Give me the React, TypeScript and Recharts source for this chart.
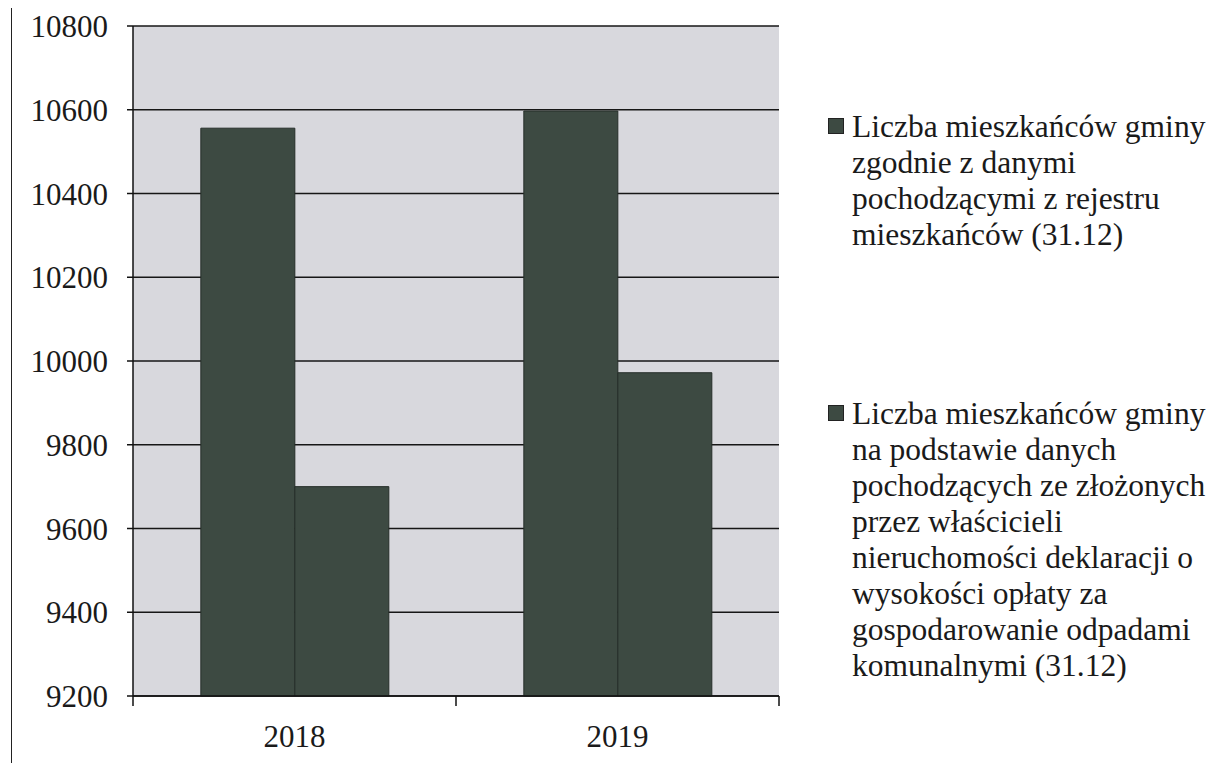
import React from 'react';
import { BarChart, Bar, XAxis, YAxis, CartesianGrid } from 'recharts';

const years = ['2018', '2019'];
const registerResidents = [10556, 10597];
const declaredResidents = [9700, 9972];
const yTicks = [9200, 9400, 9600, 9800, 10000, 10200, 10400, 10600, 10800];
const seriesNames = [
  'Liczba mieszkańców gminy\nzgodnie z danymi\npochodzącymi z rejestru\nmieszkańców (31.12)',
  'Liczba mieszkańców gminy\nna podstawie danych\npochodzących ze złożonych\nprzez właścicieli\nnieruchomości deklaracji o\nwysokości opłaty za\ngospodarowanie odpadami\nkomunalnymi (31.12)',
];

const data = years.map((year, i) => ({
  year,
  register: registerResidents[i],
  declared: declaredResidents[i],
}));

const FONT = '"Liberation Serif", "Times New Roman", serif';
const BAR = '#3d4a42';
const W = 800;
const H = 763;
const MARGIN = { top: 26, right: 21, left: 0, bottom: 27 };
const Y_WIDTH = 133;
const PLOT_W = W - MARGIN.left - MARGIN.right - Y_WIDTH;
const HALF_BAND = PLOT_W / years.length / 2;

// x-axis ticks sit on the category borders, labels in the middle
function YearTick(props: any) {
  const { x, y, payload, index } = props;
  const last = index === years.length - 1;
  return (
    <g>
      <line x1={x - HALF_BAND} x2={x - HALF_BAND} y1={y} y2={y + 10} stroke="#111" strokeWidth={1.5} />
      {last && (
        <line x1={x + HALF_BAND} x2={x + HALF_BAND} y1={y} y2={y + 10} stroke="#111" strokeWidth={1.5} />
      )}
      <text x={x} y={y + 51} textAnchor="middle" fontFamily={FONT} fontSize={31} fill="#1a1a1a">
        {payload.value}
      </text>
    </g>
  );
}

function LegendBox() {
  const tops = [109, 396];
  return (
    <>
      {seriesNames.map((name, i) => (
        <div key={i} style={{ position: 'absolute', left: 828, top: tops[i], width: 400, fontFamily: FONT }}>
          <span
            style={{
              position: 'absolute',
              left: 0,
              top: 9,
              width: 14,
              height: 14,
              background: BAR,
              border: '1px solid #222',
            }}
          />
          <div
            style={{
              marginLeft: 24,
              fontSize: 31.5,
              lineHeight: '36px',
              color: '#1a1a1a',
              whiteSpace: 'pre-line',
              textAlign: 'left',
            }}
          >
            {name}
          </div>
        </div>
      ))}
    </>
  );
}

export default function App() {
  return (
    <div style={{ position: 'relative', width: 1231, height: H, margin: '-8px 0 0 -8px', background: '#fff' }}>
      <div style={{ position: 'absolute', left: 11, top: 0, width: 0, height: H, borderLeft: '1.5px solid #222' }} />
      <div style={{ position: 'absolute', left: 1228, top: 330, width: 0, height: 433, borderLeft: '1px solid #ddd' }} />
      <div style={{ position: 'absolute', left: 0, top: 0 }}>
        <BarChart width={W} height={H} data={data} margin={MARGIN} barCategoryGap="21%" barGap={0}>
          <CartesianGrid vertical={false} fill="#d8d8dd" stroke="#161616" strokeWidth={1.5} />
          <XAxis
            dataKey="year"
            height={40}
            tickSize={0}
            tickMargin={0}
            tickLine={false}
            axisLine={{ stroke: '#111', strokeWidth: 1.5 }}
            tick={<YearTick />}
            interval={0}
          />
          <YAxis
            width={Y_WIDTH}
            domain={[9200, 10800]}
            ticks={yTicks}
            interval={0}
            tickSize={6}
            tickMargin={19}
            axisLine={{ stroke: '#111', strokeWidth: 1.5 }}
            tickLine={{ stroke: '#111', strokeWidth: 1.5 }}
            tick={{ fontFamily: FONT, fontSize: 31, fill: '#1a1a1a' }}
          />
          <Bar dataKey="register" name={seriesNames[0]} fill={BAR} stroke="#262e29" strokeWidth={1} isAnimationActive={false} />
          <Bar dataKey="declared" name={seriesNames[1]} fill={BAR} stroke="#262e29" strokeWidth={1} isAnimationActive={false} />
        </BarChart>
      </div>
      <LegendBox />
    </div>
  );
}
